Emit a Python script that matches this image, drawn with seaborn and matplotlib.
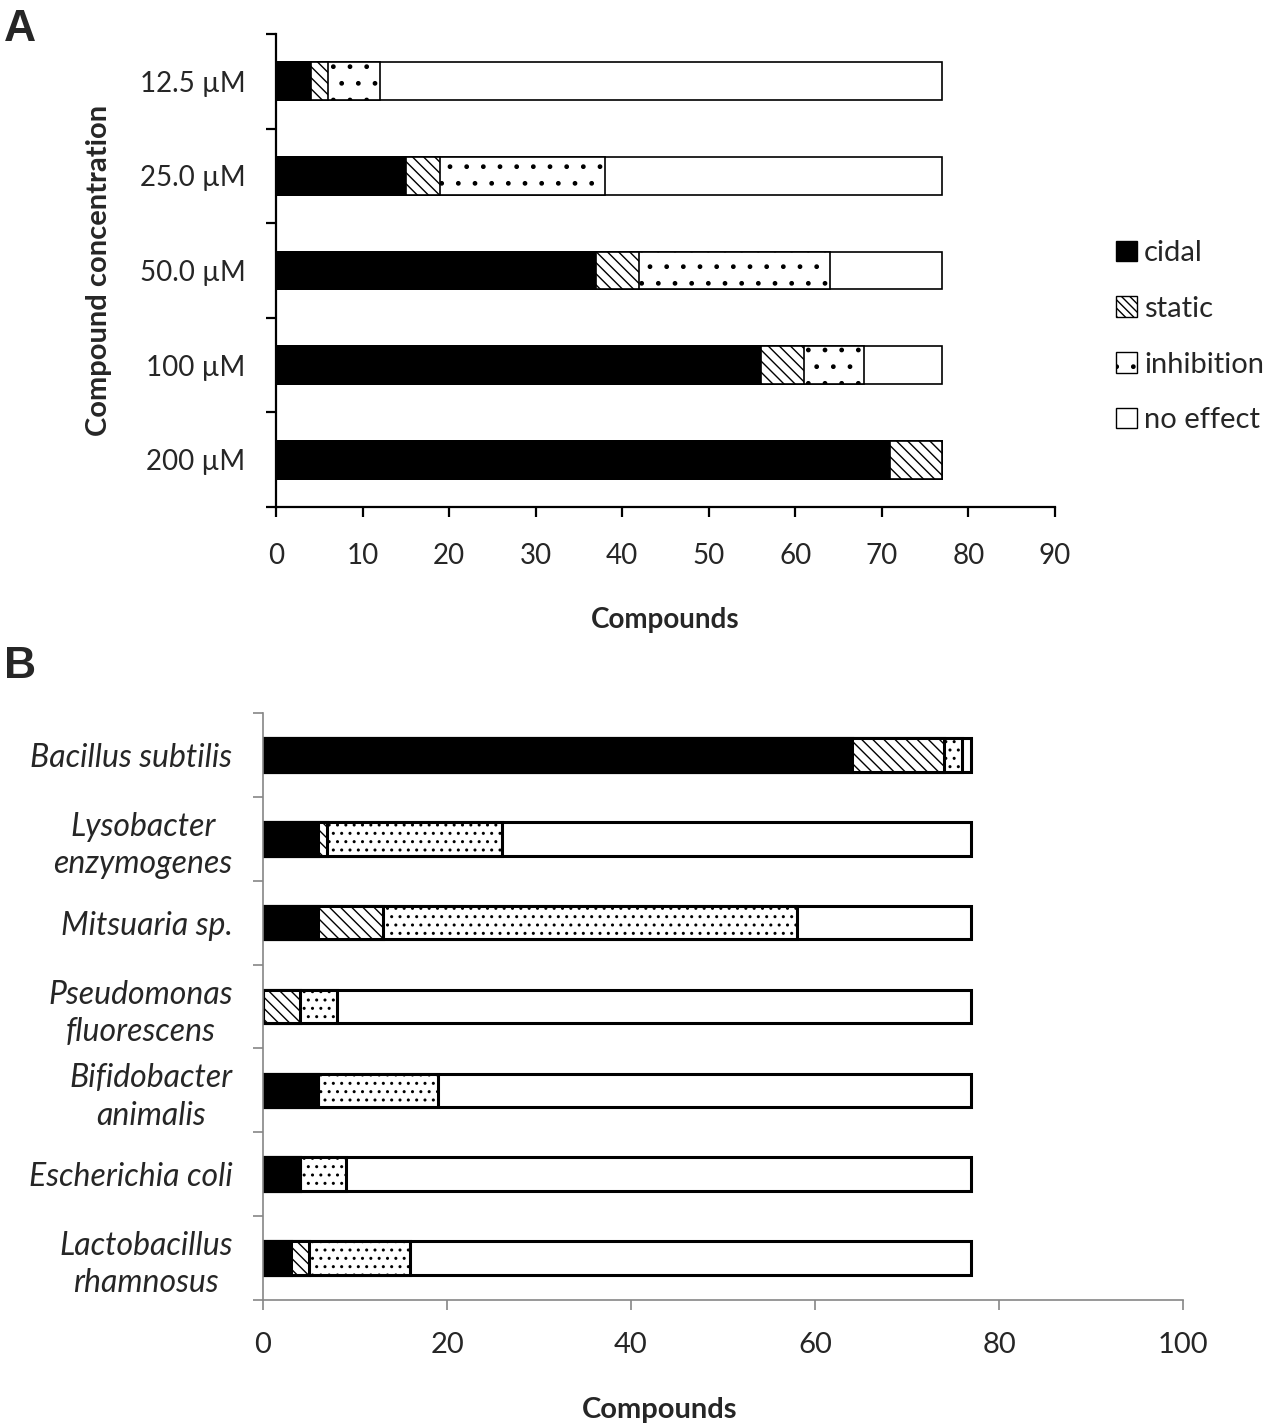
import numpy as np
import pandas as pd
import matplotlib
matplotlib.use("Agg")
import matplotlib.pyplot as plt
from matplotlib.patches import Patch
import seaborn as sns

# panel A: compound concentration vs outcome
conc_labels = ["12.5 µM", "25.0 µM", "50.0 µM", "100 µM", "200 µM"]
a_cidal = [4, 15, 37, 56, 71]
a_static = [2, 4, 5, 5, 6]
a_inhib = [6, 19, 22, 7, 0]
a_none = [65, 39, 13, 9, 0]

# panel B: per species
species = ["Bacillus subtilis", "Lysobacter\nenzymogenes", "Mitsuaria sp.",
           "Pseudomonas\nfluorescens", "Bifidobacter\nanimalis",
           "Escherichia coli", "Lactobacillus\nrhamnosus"]
b_cidal = [64, 6, 6, 0, 6, 4, 3]
b_static = [10, 1, 7, 4, 0, 0, 2]
b_inhib = [2, 19, 45, 4, 13, 5, 11]
b_none = [1, 51, 19, 69, 58, 68, 61]

outcomes = ["cidal", "static", "inhibition", "no effect"]

sns.set_style("ticks")
plt.rcParams["font.family"] = ["Lato", "DejaVu Sans"]
plt.rcParams["hatch.linewidth"] = 1.0


def stacked(ax, labels, parts, hatches, lw):
    df = pd.DataFrame({"label": labels})
    cum = np.cumsum(np.array(parts), axis=0)
    styles = [("black", None), ("white", hatches[0]), ("white", hatches[1]), ("white", None)]
    # draw longest cumulative first so shorter segments sit on top
    for i in range(len(parts) - 1, -1, -1):
        df["value"] = cum[i]
        face, hatch = styles[i]
        sns.barplot(data=df, x="value", y="label", orient="h", color=face,
                    saturation=1, edgecolor="black", linewidth=lw, hatch=hatch,
                    width=0.4, ax=ax)
    n = len(labels)
    ax.set_yticks(np.arange(-0.5, n, 1), minor=True)
    ax.set_ylim(n - 0.5, -0.5)


fig = plt.figure(figsize=(12.67, 14.27), dpi=100)

# ---- A ----
axA = fig.add_axes([0.2178, 0.6447, 0.6148, 0.3315])
stacked(axA, conc_labels, [a_cidal, a_static, a_inhib, a_none], ["\\\\\\", "."], 1.2)
axA.set_xlim(0, 90)
axA.set_xticks(range(0, 91, 10))
sns.despine(ax=axA)
for s in ["left", "bottom"]:
    axA.spines[s].set_linewidth(1.6)
    axA.spines[s].set_color("black")
axA.tick_params(axis="y", which="major", length=0, pad=22, labelsize=20)
axA.tick_params(axis="y", which="minor", length=7, width=1.6, color="black")
axA.tick_params(axis="x", length=7, width=1.6, color="black", pad=19, labelsize=20)
axA.set_ylabel("Compound concentration", fontsize=21, fontweight="bold")
axA.yaxis.set_label_coords(-0.21, 0.5)
axA.set_xlabel("Compounds", fontsize=20, fontweight="bold")
axA.xaxis.set_label_coords(0.5, -0.212)

handles = [
    Patch(facecolor="black", edgecolor="black", label="cidal"),
    Patch(facecolor="white", edgecolor="black", hatch="\\\\\\\\", label="static"),
    Patch(facecolor="white", edgecolor="black", hatch=".", label="inhibition"),
    Patch(facecolor="white", edgecolor="black", label="no effect"),
]
fig.legend(handles=handles, loc="center left", bbox_to_anchor=(0.881, 0.764),
           frameon=False, fontsize=21, handlelength=0.7, handleheight=0.7,
           handletextpad=0.25, labelspacing=1.02, borderpad=0, borderaxespad=0)

# ---- B ----
axB = fig.add_axes([0.2076, 0.0890, 0.7261, 0.4113])
stacked(axB, species, [b_cidal, b_static, b_inhib, b_none], ["\\\\\\", ".."], 2.2)
axB.set_xlim(0, 100)
axB.set_xticks(range(0, 101, 20))
sns.despine(ax=axB)
for s in ["left", "bottom"]:
    axB.spines[s].set_linewidth(1.2)
    axB.spines[s].set_color("#868686")
axB.tick_params(axis="y", which="major", length=0, pad=22, labelsize=23)
axB.tick_params(axis="y", which="minor", length=7, width=1.2, color="#868686")
axB.tick_params(axis="x", length=7, width=1.2, color="#868686", pad=16, labelsize=21)
for t in axB.get_yticklabels():
    t.set_fontstyle("italic")
    t.set_multialignment("center")
    t.set_linespacing(1.3)
axB.set_ylabel("")
axB.set_xlabel("Compounds", fontsize=21, fontweight="bold")
axB.xaxis.set_label_coords(0.4315, -0.166)

fig.text(0.003, 0.979, "A", fontsize=32, fontweight="bold",
         family=["Liberation Sans", "DejaVu Sans"], va="center")
fig.text(0.003, 0.533, "B", fontsize=32, fontweight="bold",
         family=["Liberation Sans", "DejaVu Sans"], va="center")

fig.savefig("out.png", dpi=100)
